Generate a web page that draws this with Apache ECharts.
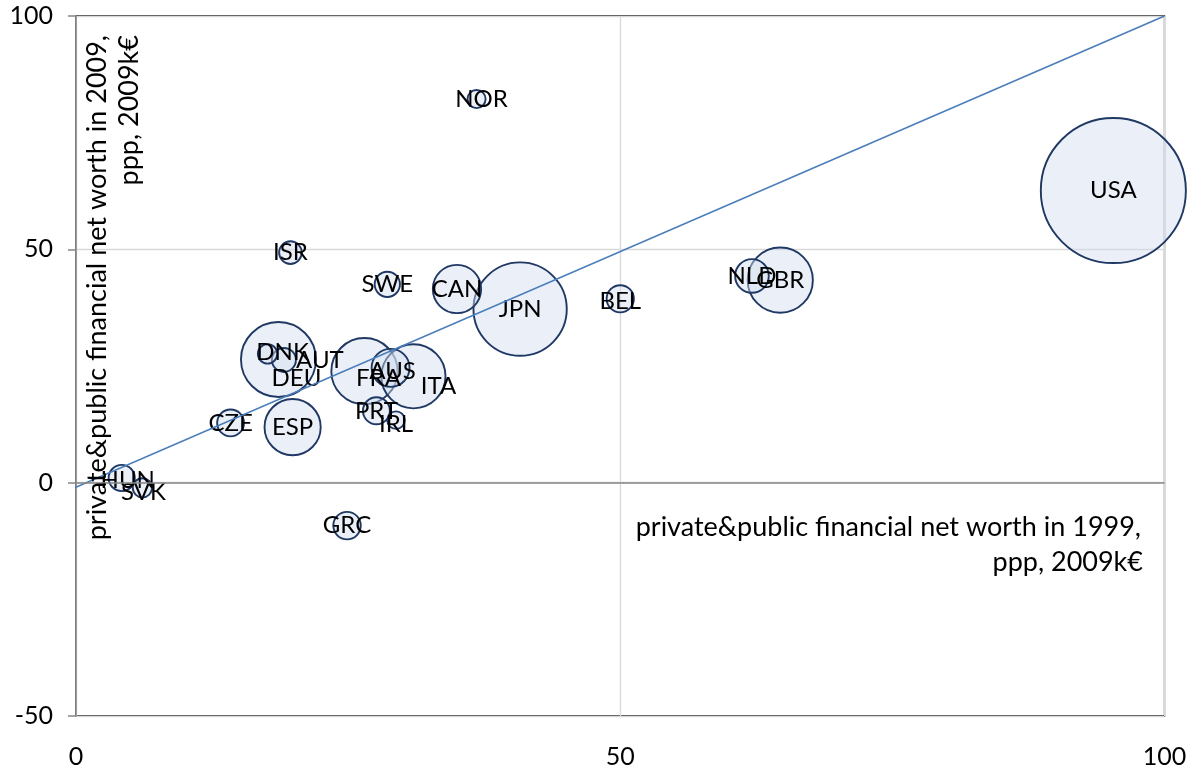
<!DOCTYPE html>
<html style="height: 100%">
<head>
    <meta charset="utf-8">
    <script src="https://fastly.jsdelivr.net/npm/echarts@6.0.0/dist/echarts.min.js"></script>
    <title>net worth 1999 vs 2009</title>
</head>
<body style="height: 100%; margin: 0; background: #fff">
<div id="container" style="height: 774px; width: 1194px"></div>

<script type="text/javascript">
    // countries, 1999 worth (x), 2009 worth (y), population in millions (bubble size)
    var countries = ['USA', 'JPN', 'DEU', 'GBR', 'FRA', 'ITA', 'ESP', 'CAN', 'AUS', 'NLD',
        'BEL', 'SWE', 'ISR', 'AUT', 'DNK', 'NOR', 'PRT', 'IRL', 'CZE', 'HUN', 'SVK', 'GRC'];
    var worth1999 = [95.3, 40.8, 18.6, 64.7, 26.5, 31.0, 19.9, 35.0, 28.9, 62.1,
        50.0, 28.6, 19.7, 19.1, 17.6, 36.8, 27.6, 29.4, 14.2, 4.2, 6.1, 24.9];
    var worth2009 = [62.6, 37.2, 26.4, 43.4, 23.9, 22.8, 11.9, 41.5, 24.6, 44.3,
        39.4, 42.5, 49.3, 26.3, 27.6, 82.2, 15.4, 13.4, 12.8, 1.0, -1.1, -9.2];
    var population = [307, 127, 82, 62, 64, 60, 46, 34, 21, 16.5,
        10.8, 9.3, 7.5, 8.4, 5.5, 4.8, 10.6, 4.5, 10.5, 10, 5.4, 11];

    // straight reference line
    var trendX = [-1.5, 100];
    var trendY = [-2.5, 100];

    var xTicks = [0, 50, 100];
    var yTicks = [-50, 0, 50, 100];

    // hand-moved labels (pixel offsets)
    var labelNudge = {
        DEU: [18, 19], AUT: [36, 0], DNK: [15, -2], FRA: [14, 7], ITA: [25, 10],
        HUN: [6, 2], SVK: [1, 4], NOR: [5, 0], AUS: [2, 3], IRL: [0, 4], BEL: [0, 2]
    };

    var font = 'Lato';

    var bubbles = countries.map(function (c, i) {
        var nudge = labelNudge[c] || [0, 0];
        return {
            name: c,
            value: [worth1999[i], worth2009[i], population[i]],
            label: {offset: nudge}
        };
    });

    var dom = document.getElementById('container');
    var myChart = echarts.init(dom, null, {renderer: 'canvas'});

    var option = {
        backgroundColor: '#ffffff',
        animation: false,
        grid: {
            left: 76,
            right: 29.5,
            top: 16,
            bottom: 58,
            show: true,
            borderColor: '#000000',
            borderWidth: 1.3,
            backgroundColor: 'transparent'
        },
        xAxis: {
            type: 'value',
            min: xTicks[0],
            max: xTicks[xTicks.length - 1],
            interval: 50,
            axisLine: {show: false},
            axisTick: {show: false},
            axisLabel: {
                margin: 28,
                fontFamily: font,
                fontSize: 25,
                color: '#000'
            },
            splitLine: {lineStyle: {color: '#d9d9d9', width: 1.3}}
        },
        yAxis: {
            type: 'value',
            min: yTicks[0],
            max: yTicks[yTicks.length - 1],
            interval: 50,
            axisLine: {show: true, onZero: false, lineStyle: {color: '#868686', width: 1.5}},
            axisTick: {show: true, length: 8, lineStyle: {color: '#868686', width: 1.5}},
            axisLabel: {
                margin: 23,
                fontFamily: font,
                fontSize: 25,
                color: '#000'
            },
            splitLine: {lineStyle: {color: '#d9d9d9', width: 1.3}}
        },
        series: [
            {
                type: 'scatter',
                data: bubbles,
                clip: true,
                symbolSize: function (v) {
                    return Math.sqrt(v[2]) * 8.28;
                },
                itemStyle: {
                    color: 'rgba(210, 221, 240, 0.45)',
                    borderColor: '#1f3864',
                    borderWidth: 1.9,
                    opacity: 1
                },
                label: {
                    show: true,
                    position: 'inside',
                    formatter: '{b}',
                    fontFamily: font,
                    fontSize: 24,
                    color: '#000'
                },
                markLine: {
                    silent: true,
                    symbol: 'none',
                    label: {show: false},
                    lineStyle: {color: '#868686', width: 1.5, type: 'solid'},
                    data: [{yAxis: 0}]
                },
                z: 3
            },
            {
                type: 'line',
                data: trendX.map(function (x, i) { return [x, trendY[i]]; }),
                symbol: 'none',
                clip: false,
                lineStyle: {color: '#4a7ebb', width: 1.6},
                z: 4
            }
        ],
        graphic: [
            {
                type: 'text',
                x: 97, y: 35,
                rotation: Math.PI / 2,
                style: {
                    text: 'private&public financial net worth in 2009,',
                    font: '27px ' + font,
                    fill: '#000',
                    textAlign: 'right',
                    textVerticalAlign: 'middle'
                },
                z: 10
            },
            {
                type: 'text',
                x: 129, y: 35,
                rotation: Math.PI / 2,
                style: {
                    text: 'ppp, 2009k€',
                    font: '27px ' + font,
                    fill: '#000',
                    textAlign: 'right',
                    textVerticalAlign: 'middle'
                },
                z: 10
            },
            {
                type: 'text',
                x: 1141, y: 527,
                style: {
                    text: 'private&public financial net worth in 1999,',
                    font: '27px ' + font,
                    fill: '#000',
                    textAlign: 'right',
                    textVerticalAlign: 'middle'
                },
                z: 10
            },
            {
                type: 'text',
                x: 1143, y: 562,
                style: {
                    text: 'ppp, 2009k€',
                    font: '27px ' + font,
                    fill: '#000',
                    textAlign: 'right',
                    textVerticalAlign: 'middle'
                },
                z: 10
            }
        ]
    };

    myChart.setOption(option);
    window.addEventListener('resize', myChart.resize);
</script>
</body>
</html>
